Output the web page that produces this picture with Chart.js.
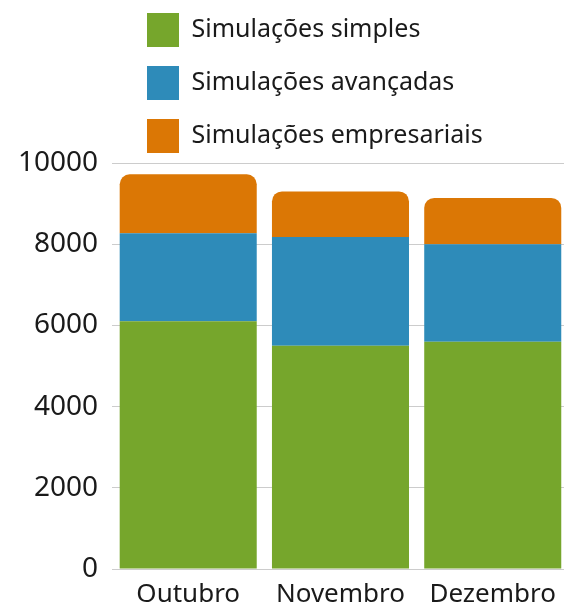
<!DOCTYPE html>
<html lang="pt">
<head>
<meta charset="UTF-8">
<script src="https://cdn.jsdelivr.net/npm/chart.js@4.4.1/dist/chart.umd.min.js"></script>
<style>
  html, body { margin: 0; padding: 0; background: #fff; overflow: hidden; }
  #wrap { width: 569px; height: 608px; }
</style>
</head>
<body>
<div id="wrap"><canvas id="chart"></canvas></div>
<script>
const months = ['Outubro', 'Novembro', 'Dezembro'];
const simples = [6100, 5500, 5600];
const avancadas = [2170, 2680, 2400];
const empresariais = [1450, 1120, 1140];
const seriesNames = ['Simulações simples', 'Simulações avançadas', 'Simulações empresariais'];
const colors = ['#76a62c', '#2e8bb9', '#db7705'];

// push the legend rows over so the boxes line up like the original
const legendShift = {
  id: 'legendShift',
  afterLayout(chart) {
    chart.legend.left = 128;
  }
};

Chart.defaults.font.family = '"Noto Sans", sans-serif';
Chart.defaults.color = '#1a1a1a';

new Chart(document.getElementById('chart'), {
  type: 'bar',
  data: {
    labels: months,
    datasets: [
      { label: seriesNames[0], data: simples, backgroundColor: colors[0] },
      { label: seriesNames[1], data: avancadas, backgroundColor: colors[1] },
      {
        label: seriesNames[2], data: empresariais, backgroundColor: colors[2],
        borderRadius: { topLeft: 10, topRight: 10, bottomLeft: 0, bottomRight: 0 },
        borderSkipped: false
      }
    ]
  },
  options: {
    responsive: true,
    maintainAspectRatio: false,
    animation: false,
    layout: { padding: { top: -6, right: 0, left: 4, bottom: -13 } },
    datasets: { bar: { categoryPercentage: 1, barPercentage: 0.9 } },
    plugins: {
      tooltip: { enabled: false },
      legend: {
        position: 'top',
        align: 'start',
        labels: {
          boxWidth: 32,
          boxHeight: 34,
          padding: 19,
          color: '#1a1a1a',
          font: { size: 25 }
        }
      }
    },
    scales: {
      x: {
        stacked: true,
        grid: { display: false, drawTicks: false },
        border: { display: false },
        ticks: { font: { size: 26, lineHeight: 1 }, padding: 13 }
      },
      y: {
        stacked: true,
        min: 0,
        max: 10000,
        grid: { color: '#cccccc', drawTicks: false, lineWidth: 1 },
        border: { display: false },
        ticks: {
          stepSize: 2000,
          font: { size: 28 },
          padding: 14,
          callback: (v) => String(v)
        }
      }
    }
  },
  plugins: [legendShift]
});
</script>
</body>
</html>
